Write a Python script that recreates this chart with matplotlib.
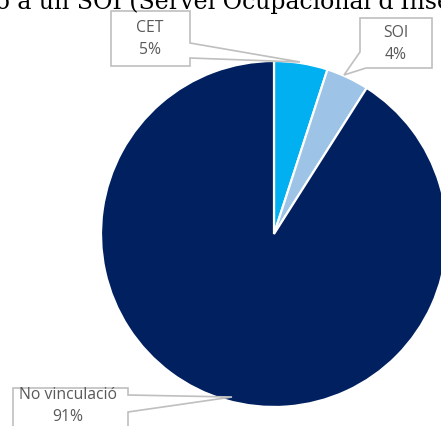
import numpy as np
import matplotlib.pyplot as plt
from matplotlib.patches import Polygon

# slice data, clockwise from 12 o'clock
labels = ['CET', 'SOI', 'No vinculació']
values = [5, 4, 91]
colors = ['#00B0F0', '#9DC3E6', '#002060']

title = "Vinculació a un SOI (Servei Ocupacional d'Inserció)"

W, H = 441, 426
fig = plt.figure(figsize=(W / 100, H / 100), dpi=100)

def px(x, y):
    # pixel (from top-left) -> figure fraction
    return x / W, 1 - y / H

# pie axes, centre (274, 234), radius 173 px
cx, cy, r = 274, 234, 173
ax = fig.add_axes([(cx - r) / W, (H - cy - r) / H, 2 * r / W, 2 * r / H])
ax.pie(values, colors=colors, startangle=90, counterclock=False,
       wedgeprops=dict(edgecolor='white', linewidth=1.6))
ax.set_xlim(-1, 1)
ax.set_ylim(-1, 1)
ax.set_aspect('auto')
ax.axis('off')

# title, only partly inside the figure
tx, ty = px(-114, 9)
fig.text(tx, ty, title, fontsize=17, family='DejaVu Serif',
         ha='left', va='baseline', color='black')

# callout boxes: wedge outline points, label position
box_col = '#BFBFBF'
txt_col = '#595959'

def callout(outline, text, tpos):
    pts = [px(*p) for p in outline]
    fig.patches.append(Polygon(pts, closed=True, transform=fig.transFigure,
                               facecolor='white', edgecolor=box_col,
                               linewidth=1.2, zorder=3))
    fx, fy = px(tpos[0], tpos[1])
    fig.text(fx, fy, text, ha='center', va='center', fontsize=11.3,
             family='Open Sans', color=txt_col, linespacing=1.45, zorder=4)

pct = [f'{v}%' for v in values]

callout([(111, 11), (190, 11), (190, 43), (300, 62), (190, 58), (190, 66),
         (111, 66)],
        f'{labels[0]}\n{pct[0]}', (150, 39))

callout([(360, 18), (432, 18), (432, 68), (366, 68), (344, 75), (360, 52)],
        f'{labels[1]}\n{pct[1]}', (396, 44))

callout([(13, 388), (128, 388), (128, 395), (232, 397), (128, 412),
         (128, 440), (13, 440)],
        f'{labels[2]}\n{pct[2]}', (68, 406))

fig.savefig('out.png', dpi=100)
